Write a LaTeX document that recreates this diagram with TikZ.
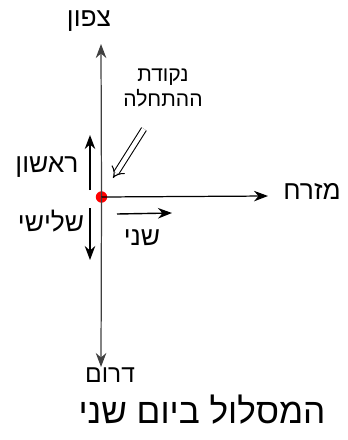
\documentclass[tikz,border=0pt]{standalone}
\usepackage{fontspec}
\usetikzlibrary{arrows.meta}
\TeXXeTstate=1
\newfontfamily\hebfont[Script=Hebrew]{Liberation Sans}
\tikzset{
  lbl/.style={font=\hebfont\fontsize{#1}{#1}\selectfont, inner sep=0pt, align=center},
  axis/.style={line width=0.7pt, -{Stealth[length=8pt,width=6pt]}},
  marr/.style={line width=0.8pt, -{Stealth[length=8pt,width=6pt]}},
}
\begin{document}
\begin{tikzpicture}[x=0.02cm,y=-0.02cm]
\useasboundingbox (0,0) rectangle (348,440);
% start point
\node[circle, fill=red, inner sep=0pt, minimum size=6.5pt] (start) at (101.5,197) {};
\coordinate (n) at (101,44);
\coordinate (s) at (101,367);
\coordinate (e) at (268,196);
\draw[axis, draw=black!75] (start.center) -- (n);
\draw[axis, draw=black!75] (start.center) -- (s);
\draw[axis] (start.center) -- (e);
% labels of directions
\node[lbl=15] (north) at (89,21) {\beginR צפון\endR};
\node[lbl=15] (east) at (312,191) {\beginR מזרח\endR};
\node[lbl=14] (south) at (110,375) {\beginR דרום\endR};
% starting point label
\node[lbl=12] (startlbl) at (163,88) {\beginR נקודת\endR\\[1pt]\beginR ההתחלה\endR};
\coordinate (dA) at (144,129);
\coordinate (dB) at (113,178);
\draw[double, double distance=2.5pt, line width=0.6pt, -{Implies}] (dA) -- (dB);
% legs
\coordinate (u1) at (90,190);
\coordinate (u2) at (90,135);
\draw[marr] (u1) -- (u2);
\node[lbl=15] (first) at (47,167) {\beginR ראשון\endR};
\coordinate (r1) at (117,214);
\coordinate (r2) at (172,213);
\draw[marr] (r1) -- (r2);
\node[lbl=15] (second) at (142,238) {\beginR שני\endR};
\coordinate (d1) at (90,208);
\coordinate (d2) at (90,260);
\draw[marr] (d1) -- (d2);
\node[lbl=15] (third) at (51,221) {\beginR שלישי\endR};
% title
\node[lbl=20] (title) at (202,410) {\beginR המסלול ביום שני\endR};
\end{tikzpicture}
\end{document}
